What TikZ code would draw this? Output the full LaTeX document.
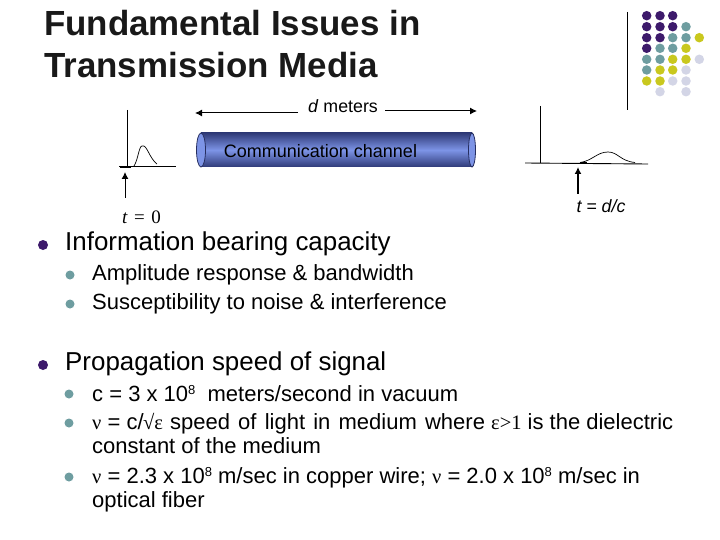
\documentclass[tikz,border=0pt]{standalone}
\usepackage{fontspec}
\setmainfont{Liberation Sans}
\newfontfamily\serifgreek{Liberation Serif}
\usetikzlibrary{arrows.meta}
\definecolor{dotP}{HTML}{3D1A6B}
\definecolor{dotT}{HTML}{6E9DA0}
\definecolor{dotY}{HTML}{C9C81E}
\definecolor{dotL}{HTML}{D3D5E6}
\definecolor{tubeEdge}{HTML}{2F3A78}
\definecolor{tubeMid}{HTML}{7D94E6}
\newcommand{\supr}[1]{\raisebox{0.55ex}{\fontsize{13}{13}\selectfont #1}}
\newcommand{\gk}[1]{{\serifgreek\fontsize{20.5}{20.5}\selectfont #1}}
\tikzset{
  titletext/.style={anchor=base west,inner sep=0pt,font=\fontsize{34.9}{34.9}\selectfont\bfseries,text=black!90},
  lvlone/.style={anchor=base west,inner sep=0pt,font=\fontsize{25.9}{25.9}\selectfont},
  lvltwo/.style={anchor=base west,inner sep=0pt,font=\fontsize{22}{22}\selectfont},
  lbl/.style={anchor=base,inner sep=0pt,font=\fontsize{17.8}{17.8}\selectfont},
  bulone/.style={circle,fill=dotP,inner sep=0pt,minimum size=10pt},
  bultwo/.style={circle,fill=dotT,inner sep=0pt,minimum size=9pt},
  pd/.style={circle,fill=dotP,inner sep=0pt,minimum size=9.5pt},
  td/.style={circle,fill=dotT,inner sep=0pt,minimum size=9.5pt},
  yd/.style={circle,fill=dotY,inner sep=0pt,minimum size=9.5pt},
  ld/.style={circle,fill=dotL,inner sep=0pt,minimum size=9.5pt},
  axis/.style={draw=black,line width=0.9pt},
  pulse/.style={draw=black,line width=0.7pt},
  arr/.style={draw=black,line width=1pt,-{Latex[length=7pt,width=7pt]}},
}
\begin{document}
\begin{tikzpicture}[x=1pt,y=-1pt]
\useasboundingbox (0,0) rectangle (720,540);
\fill[white] (0,0) rectangle (720,540);
% titles
\node[titletext] (t1) at (44,36) {Fundamental Issues in};
\node[titletext] (t2) at (44,78) {Transmission Media};
% decorative
\coordinate (rt) at (627,12); \coordinate (rb) at (627,110);
\draw[axis] (rt) -- (rb);
\foreach \x/\y/\s in {646.7/15.7/pd,660/15.7/pd,672.7/15.7/pd,
 646.7/26.7/pd,660/26.7/pd,672.7/26.7/pd,686/26.7/td,
 646.7/37.7/pd,660/37.7/pd,672.7/37.7/td,686/37.7/td,699.3/37.7/yd,
 646.7/48.3/pd,660/48.3/td,672.7/48.3/td,686/48.3/yd,
 646.7/59.3/td,660/59.3/td,672.7/59.3/yd,686/59.3/yd,699.3/59.3/ld,
 646.7/70/td,660/70/yd,672.7/70/yd,686/70/ld,
 646.7/81/yd,660/81/yd,672.7/81/ld,686/81/ld,
 660/91.7/ld,686/91.7/ld}
  \node[\s] at (\x,\y) {};
% channel
\shade[top color=tubeEdge,bottom color=tubeEdge,middle color=tubeMid] (201,133) rectangle (472,167);
\fill[tubeMid,draw=tubeEdge!80!black,line width=0.8pt] (201,150) ellipse (4.5 and 17);
\fill[tubeMid,draw=tubeEdge!80!black,line width=0.8pt] (472,150) ellipse (3.5 and 17);
\node[lbl,font=\fontsize{18}{18}\selectfont] (chan) at (320.5,158) {Communication channel};
% d meters
\node[lbl] (dm) at (343,113) {\textit{d} meters};
\coordinate (dl) at (195,113); \coordinate (dlb) at (298,113);
\coordinate (dr) at (477,111); \coordinate (drb) at (385,111);
\draw[arr] (dlb) -- (dl);
\draw[arr] (drb) -- (dr);
% left axes
\coordinate (la1) at (127,110); \coordinate (la2) at (127,166);
\coordinate (lh1) at (119,166.5); \coordinate (lh2) at (176,166.5);
\draw[axis] (la1) -- (la2);
\draw[axis] (lh1) -- (lh2);
\draw[pulse] (134,166) .. controls (138,160) and (139,146) .. (142,146) .. controls (147,144) and (149,158) .. (157,164);
\draw[black,line width=1.2pt] (120,167) -- (131,167);
\coordinate (la0) at (125,198); \coordinate (la3) at (125,172);
\draw[arr] (la0) -- (la3);
\node[anchor=base,inner sep=0pt,font=\fontsize{19}{19}\selectfont\serifgreek] (t0) at (141.5,223) {\textit{t}\,\,=\,\,0};
% right axes
\coordinate (ra1) at (540,106); \coordinate (ra2) at (540,163);
\coordinate (rh1) at (525,163); \coordinate (rh2) at (648,164);
\draw[axis] (ra1) -- (ra2);
\draw[axis] (rh1) -- (rh2);
\draw[pulse] (580,162.5) .. controls (592,161) and (597,152) .. (608,152) .. controls (618,152) and (620,161) .. (635,162.5);
\draw[black,line width=1.2pt] (580,163) -- (587,163);
\coordinate (ra0) at (578,194); \coordinate (ra3) at (578,167);
\draw[arr,line width=1.4pt] (ra0) -- (ra3);
\node[lbl] (td) at (601,212) {\textit{t = d/c}};
% bullets
\node[bulone] (b1) at (43,245) {};
\node[bulone] (b2) at (43,365) {};
\node[bultwo] (b11) at (70,275) {};
\node[bultwo] (b12) at (70,304) {};
\node[bultwo] (b21) at (69,394) {};
\node[bultwo] (b22) at (69,423) {};
\node[bultwo] (b23) at (69,477) {};
% text
\node[lvltwo] (i21) at (92,401) {c = 3 x 10\supr{8}\ \ meters/second in vacuum};
\node[lvlone] (i1) at (65,250) {Information bearing capacity};
\node[lvltwo] (i11) at (92,280) {Amplitude response \& bandwidth};
\node[lvltwo] (i12) at (92,309) {Susceptibility to noise \& interference};
\node[lvlone] (i2) at (65,370) {Propagation speed of signal};
\node[lvltwo] (i22) at (92,429) {\gk{ν} = c/\kern-0.5pt\gk{√ε}\ \kern1pt{\spaceskip=8.2pt speed of light in medium where} \gk{ε>1} is the dielectric};
\node[lvltwo] (i22b) at (92,453) {constant of the medium};
\node[lvltwo] (i23) at (92,483) {\gk{ν} = 2.3 x 10\supr{8} m/sec in copper wire; \gk{ν} = 2.0 x 10\supr{8} m/sec in};
\node[lvltwo] (i23b) at (92,507) {optical fiber};
\end{tikzpicture}
\end{document}
